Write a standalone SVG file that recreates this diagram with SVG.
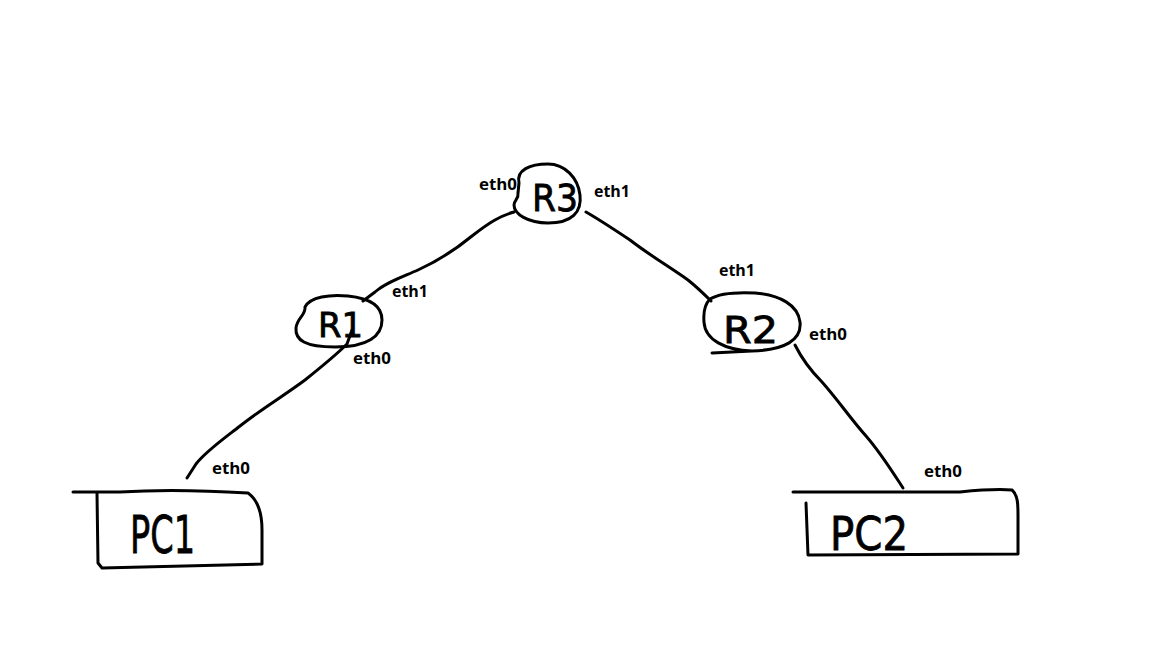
<svg xmlns="http://www.w3.org/2000/svg" width="1152" height="648" viewBox="0 0 1152 648">
<style>
.s{fill:none;stroke:#000;stroke-width:3;stroke-linecap:round;stroke-linejoin:round}
.lbl{font-family:"Open Sans","Liberation Sans",Arial,sans-serif;font-weight:700;font-size:16px;fill:#000}
.nm{font-family:"DejaVu Sans","Liberation Sans",sans-serif;font-weight:normal;fill:#000;stroke:#000;stroke-width:0.8}
</style>
<rect width="1152" height="648" fill="#fff"/>
<g id="connectors">
<path class="s" d="M514,212 C500,216 490,222 472,236 C455,250 440,260 418,270 C400,278 385,283 375,292 L363,301"/>
<path class="s" d="M352,330 L347,344 C335,356 320,368 305,380 C285,395 260,410 240,426 C222,440 205,452 196,464 L187,478"/>
<path class="s" d="M586,212 C600,220 612,228 630,240 C648,254 668,266 688,280 C698,288 704,294 711,301"/>
<path class="s" d="M795,345 C800,355 808,368 822,382 C838,400 850,418 866,436 C880,452 890,468 903,488"/>
</g>
<g id="R3">
<path class="s" d="M519,183 C516,170 530,164 548,164 C565,164 578,178 580,195 C582,212 572,223 548,223 C528,223 514,214 514,205 C514,200 519,199 518,193 Z"/>
<text class="nm" x="532" y="211" font-size="38" textLength="46" lengthAdjust="spacingAndGlyphs">R3</text>
<text class="lbl" x="479" y="190" textLength="38" lengthAdjust="spacingAndGlyphs">eth0</text>
<text class="lbl" x="594" y="197" textLength="36" lengthAdjust="spacingAndGlyphs">eth1</text>
</g>
<g id="R1">
<path class="s" d="M305,307 C310,297 330,294 348,296 C368,298 382,305 382,320 C382,336 368,347 335,347 C305,347 295,340 296,328 C297,318 306,315 305,307 Z"/>
<text class="nm" x="318" y="337" font-size="34" textLength="45" lengthAdjust="spacingAndGlyphs">R1</text>
<text class="lbl" x="392" y="297" textLength="36" lengthAdjust="spacingAndGlyphs">eth1</text>
<text class="lbl" x="353" y="364" textLength="38" lengthAdjust="spacingAndGlyphs">eth0</text>
</g>
<g id="R2">
<path class="s" d="M710,299 C720,293 735,292 755,293 C780,295 798,305 800,322 C802,340 785,350 752,351 L712,353 M752,351 C725,350 705,340 704,322 C703,310 706,303 710,299"/>
<text class="nm" x="723" y="343" font-size="38" textLength="55" lengthAdjust="spacingAndGlyphs">R2</text>
<text class="lbl" x="719" y="276" textLength="36" lengthAdjust="spacingAndGlyphs">eth1</text>
<text class="lbl" x="809" y="340" textLength="38" lengthAdjust="spacingAndGlyphs">eth0</text>
</g>
<g id="PC1">
<path class="s" d="M73,492 L120,492 C150,490 200,490 248,493 C258,500 262,515 262,530 L262,564 L102,568 L98,563 L97,493"/>
<text class="nm" x="130" y="553" font-size="52" textLength="65" lengthAdjust="spacingAndGlyphs">PC1</text>
<text class="lbl" x="212" y="474" textLength="38" lengthAdjust="spacingAndGlyphs">eth0</text>
</g>
<g id="PC2">
<path class="s" d="M793,492 L960,492 C980,490 1000,489 1012,490 C1018,495 1018,505 1018,515 L1018,554 L808,555 L806,503"/>
<text class="nm" x="830" y="550" font-size="46" textLength="78" lengthAdjust="spacingAndGlyphs">PC2</text>
<text class="lbl" x="924" y="477" textLength="38" lengthAdjust="spacingAndGlyphs">eth0</text>
</g>
</svg>
